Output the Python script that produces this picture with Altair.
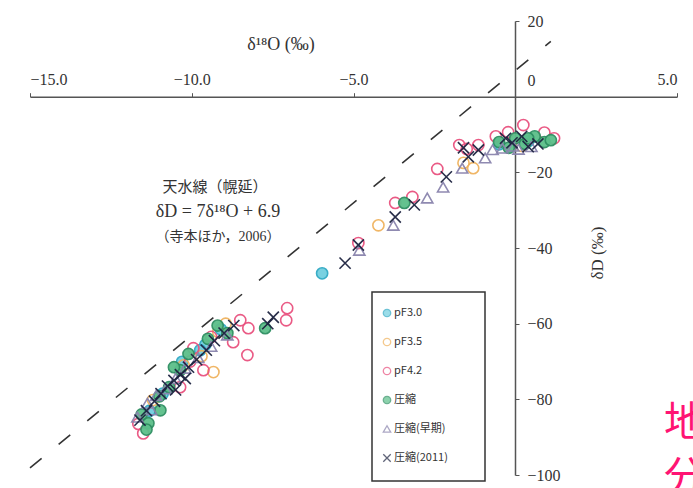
import altair as alt
import pandas as pd

# ---- sample groups: δ18O (‰) and δD (‰) ----
pf30_o18 = [-5.97, -9.58, -9.74, -10.30, -10.90, -11.30, -9.10, 0.40, -0.50]
pf30_dD = [-46.7, -65.6, -67.0, -70.1, -78.5, -83.0, -61.5, -11.8, -12.6]

pf35_o18 = [-4.23, -1.30, -9.18, -9.33, -8.95, -9.70, -10.25, -11.20, -1.60, 0.20]
pf35_dD = [-34.0, -18.9, -62.2, -72.8, -60.0, -68.6, -71.0, -80.2, -17.5, -13.0]

pf42_o18 = [-4.85, -3.71, -3.18, -2.41, -1.73, -1.14, -0.22, 0.25, -7.05, -7.08,
            -8.50, -8.25, -8.72, -8.28, -9.95, -9.64, -10.36, -11.50, -11.65, -10.05,
            0.90, 1.20, -0.60, -1.50, -9.40]
pf42_dD = [-38.7, -28.1, -26.5, -19.1, -12.8, -12.8, -9.4, -7.5, -55.9, -59.1,
           -59.1, -61.2, -64.9, -68.3, -66.5, -72.3, -76.8, -89.0, -86.5, -70.0,
           -9.5, -11.0, -10.5, -13.8, -63.5]

comp_o18 = [-3.43, -7.73, -10.36, -10.55, -10.97, -11.34, -11.55, -10.10, -9.50, -9.20,
            -11.00, -10.70, -8.90, -11.40, -0.50, 0.00, 0.30, 0.60, 0.90, -0.20, 0.40, 1.10]
comp_dD = [-28.1, -61.2, -72.3, -71.5, -82.9, -86.3, -84.0, -68.0, -64.0, -60.5,
           -79.2, -76.8, -62.5, -88.0, -12.0, -11.0, -12.5, -10.5, -12.0, -13.5, -11.0, -11.5]

early_o18 = [-4.82, -3.77, -2.72, -2.23, -1.64, -0.93, -0.06, -11.68, -11.37, -11.10,
             -10.80, -10.50, -10.20, -9.80, -9.40, -11.25, -0.70, -0.40, 0.10, 0.50, -8.90]
early_dD = [-40.6, -34.0, -26.8, -23.9, -18.9, -16.2, -13.1, -84.7, -81.0, -79.0,
            -77.2, -74.5, -71.8, -69.0, -66.0, -82.8, -14.0, -13.6, -13.9, -13.2, -63.0]

y2011_o18 = [-5.26, -4.85, -3.71, -3.12, -2.13, -1.45, -1.14, -1.60,
             -7.48, -7.65, -8.70, -9.00, -9.30, -9.55, -9.85, -10.10, -10.35, -10.55,
             -10.75, -10.95, -11.15, -11.40, -11.60, -10.50, -10.20,
             -0.30, 0.20, 0.70, -0.10, 0.40]
y2011_dD = [-44.0, -39.2, -31.8, -28.6, -21.2, -15.9, -14.1, -13.5,
            -58.3, -60.0, -60.5, -62.5, -64.5, -67.0, -69.5, -71.5, -73.5, -75.0,
            -76.5, -78.5, -80.5, -83.0, -85.5, -77.5, -74.5,
            -11.0, -10.5, -12.5, -12.2, -13.2]

series_names = ["pF3.0", "pF3.5", "pF4.2", "圧縮", "圧縮(早期)", "圧縮(2011)"]
series_o18 = [pf30_o18, pf35_o18, pf42_o18, comp_o18, early_o18, y2011_o18]
series_dD = [pf30_dD, pf35_dD, pf42_dD, comp_dD, early_dD, y2011_dD]

stroke_colors = ["#2fa9c4", "#f0b35e", "#e9527f", "#2e8f62", "#8a84ad", "#1d2340"]
fill_colors = ["#72cfe0", "transparent", "transparent", "#5cbf8a", "transparent", "transparent"]
shapes = ["circle", "circle", "circle", "circle", "triangle-up", "M-1,-1L1,1M-1,1L1,-1"]

# meteoric water line δD = 7δ18O + 6.9, end points
mwl_o18 = [-15.0, 1.1]
mwl_dD = [-98.1, 14.6]

rows = []
for name, xs, ys in zip(series_names, series_o18, series_dD):
    for xv, yv in zip(xs, ys):
        rows.append({"o18": xv, "dD": yv, "series": name})
samples = pd.DataFrame(rows)
mwl = pd.DataFrame({"o18": mwl_o18, "dD": mwl_dD})
legend_df = pd.DataFrame({"series": series_names, "row": list(range(len(series_names)))})
one = pd.DataFrame({"k": [0]})

SERIF = "Liberation Serif"
JP = "Noto Sans CJK JP"

x_scale = alt.Scale(domain=[-15, 5], nice=False, zero=False)
y_scale = alt.Scale(domain=[-100, 20], nice=False, zero=False)

x_axis = alt.Axis(
    orient="top", offset=-75.7, values=[-15, -10, -5, 0, 5],
    labelExpr="datum.value == 0 ? '' : format(datum.value, '.1f')",
    title=None, grid=False, domainColor="#555", domainWidth=1.5,
    tickColor="#555", tickSize=4, labelFont=SERIF, labelFontSize=16,
    labelColor="#333", labelPadding=5,
)
y_axis = alt.Axis(
    orient="right", offset=-162, values=[20, 0, -20, -40, -60, -80, -100],
    title=None, grid=False, domainColor="#555", domainWidth=1.5,
    tickColor="#555", tickSize=4, labelFont=SERIF, labelFontSize=16,
    labelColor="#333", labelPadding=8,
    labelOffset={"condition": {"test": "datum.value === 0", "value": -16}, "value": 0},
)

stroke_enc = alt.Stroke("series:N", scale=alt.Scale(domain=series_names, range=stroke_colors), legend=None)
fill_enc = alt.Fill("series:N", scale=alt.Scale(domain=series_names, range=fill_colors), legend=None)
shape_enc = alt.Shape("series:N", scale=alt.Scale(domain=series_names, range=shapes), legend=None)

line = alt.Chart(mwl).mark_line(color="#333", strokeWidth=1.6, strokeDash=[15, 22]).encode(
    x=alt.X("o18:Q", scale=x_scale, axis=x_axis),
    y=alt.Y("dD:Q", scale=y_scale, axis=y_axis),
)

points = alt.Chart(samples).mark_point(strokeWidth=1.6, size=125, opacity=0.95).encode(
    x=alt.X("o18:Q", scale=x_scale, axis=x_axis),
    y=alt.Y("dD:Q", scale=y_scale, axis=y_axis),
    stroke=stroke_enc, fill=fill_enc, shape=shape_enc,
)

main = alt.layer(line, points)

# legend frame and entries
frame = alt.Chart(one).mark_rect(fill="white", stroke="#333", strokeWidth=1.5).encode(
    x=alt.value(342), x2=alt.value(455), y=alt.value(271), y2=alt.value(460)
)
row_y = alt.Y("row:Q", scale=alt.Scale(domain=[0, 5], range=[292, 437]), axis=None)
leg_sym = alt.Chart(legend_df).mark_point(strokeWidth=1.3, size=55).encode(
    x=alt.value(357), y=row_y, stroke=stroke_enc, fill=fill_enc, shape=shape_enc,
)
leg_txt = alt.Chart(legend_df).mark_text(
    align="left", baseline="middle", font=JP, fontSize=11, color="#333"
).encode(x=alt.value(364), y=row_y, text="series:N")
legend = alt.layer(frame, leg_sym, leg_txt)


def label(txt, x, y, size, font=SERIF, color="#333", angle=0, align="center", baseline="middle"):
    return alt.Chart(one).mark_text(
        text=txt, font=font, fontSize=size, color=color, angle=angle,
        align=align, baseline=baseline,
    ).encode(x=alt.value(x), y=alt.value(y))


texts = alt.layer(
    label("δ¹⁸O (‰)", 251, 24, 18),
    label("δD (‰)", 568, 232, 17, angle=270),
    label("天水線（幌延）", 185, 166, 15, font=f"{SERIF}, {JP}"),
    label("δD = 7δ¹⁸O + 6.9", 188, 191, 18),
    label("（寺本ほか，2006）", 188, 216, 14, font=f"{SERIF}, {JP}"),
    label("地", 634, 383, 41, font=JP, color="#ff1473", align="left", baseline="top"),
    label("分", 634, 438, 41, font=JP, color="#ff1473", align="left", baseline="top"),
)

chart = alt.layer(main, legend, texts).resolve_scale(y="independent").properties(
    width=647, height=454,
    autosize=alt.AutoSizeParams(type="none"),
    padding={"left": 30, "top": 21, "right": 16, "bottom": 13},
    background="white",
).configure_view(stroke=None)

chart.save("out.html", embed_options={"renderer": "svg", "actions": False})
